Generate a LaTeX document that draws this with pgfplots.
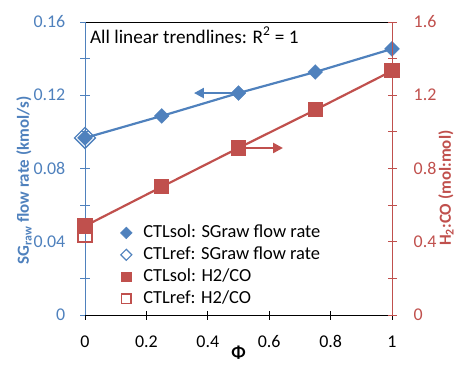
\documentclass[border=0pt]{standalone}
\usepackage{fontspec}
\setmainfont{Carlito}
\usepackage{pgfplots}
\pgfplotsset{compat=1.18}
\usetikzlibrary{arrows.meta}
\definecolor{xblue}{RGB}{79,129,189}
\definecolor{xred}{RGB}{192,80,77}
\begin{document}
\fontsize{18}{20}\selectfont
\begin{tikzpicture}
\useasboundingbox (-85bp,-50bp) rectangle (370bp,315bp);
\begin{axis}[
  at={(0,0)}, anchor=south west,
  scale only axis, width=307bp, height=293bp,
  xmin=0, xmax=1, ymin=0, ymax=0.16,
  axis x line*=box, axis y line*=left,
  x axis line style={black, line width=1pt},
  y axis line style={xblue, line width=1pt, -},
  xtick={0,0.2,0.4,0.6,0.8,1}, xticklabels={0,0.2,0.4,0.6,0.8,1},
  xtick pos=left,
  ytick={0,0.04,0.08,0.12,0.16}, yticklabels={0,0.04,0.08,0.12,0.16},
  minor ytick={0.02,0.06,0.10,0.14},
  tick align=center, major tick length=9bp, minor tick length=9bp,
  x tick style={black, line width=1pt},
  y tick style={xblue, line width=1pt},
  minor y tick style={xblue, line width=1pt},
  yticklabel style={xblue, font=\fontsize{18}{20}\selectfont, xshift=-9bp},
  xticklabel style={black, font=\fontsize{18}{20}\selectfont, yshift=-10bp},
  xlabel={\bfseries\fontsize{18}{20}\selectfont Φ},
  ylabel={\bfseries\fontsize{17}{19}\selectfont SG\textsubscript{raw} flow rate (kmol/s)},
  ylabel style={xblue, at={(rel axis cs:0,0.459)}, anchor=center, yshift=61bp},
  xlabel style={at={(rel axis cs:0.5,0)}, anchor=center, yshift=-38bp, inner sep=0pt},
  clip=false,
]
\addplot[xblue, line width=2.2pt, mark=square*, mark size=5.3pt, mark options={rotate=45, fill=xblue, draw=xblue, line width=0.3pt}]
  coordinates {(0,0.0967) (0.25,0.1087) (0.5,0.1212) (0.75,0.1327) (1,0.1453)};
\addplot[only marks, xblue, mark=square, mark size=7.4pt, mark options={rotate=45, line width=1.3pt, fill=white}]
  coordinates {(0,0.0967)};
\addplot[only marks, xblue, mark=square*, mark size=5pt, mark options={rotate=45}]
  coordinates {(0,0.0967)};
\draw[xblue, line width=2.4pt, -{Triangle[width=10pt,length=10pt]}] (axis cs:0.49,0.1212) -- (axis cs:0.355,0.1212);
\node[anchor=west, inner sep=0pt, font=\fontsize{19.3}{21}\selectfont] at (rel axis cs:0.016,0.955) {All linear trendlines: R\textsuperscript{2} = 1};
\end{axis}
\begin{axis}[
  at={(0,0)}, anchor=south west,
  scale only axis, width=307bp, height=293bp,
  xmin=0, xmax=1, ymin=0, ymax=1.6,
  axis x line=none, axis y line*=right,
  y axis line style={xred, line width=1pt, -},
  ytick={0,0.4,0.8,1.2,1.6}, yticklabels={0,0.4,0.8,1.2,1.6},
  minor ytick={0.2,0.6,1.0,1.4},
  tick align=center, major tick length=9bp, minor tick length=9bp,
  y tick style={xred, line width=1pt},
  minor y tick style={xred, line width=1pt},
  yticklabel style={xred, font=\fontsize{18}{20}\selectfont, xshift=11bp},
  ylabel={\bfseries\fontsize{17}{19}\selectfont H\textsubscript{2}:CO (mol:mol)},
  ylabel style={xred, at={(rel axis cs:1,0.433)}, anchor=center, yshift=-54bp},
  clip=false,
  legend style={at={(0.105,0.015)}, anchor=south west, draw=none, fill=none,
    font=\fontsize{18.5}{20}\selectfont, row sep=2.5pt, column sep=9bp},
  legend cell align=left,
]
\addlegendimage{only marks, xblue, mark=square*, mark size=4.2pt, mark options={rotate=45}}
\addlegendentry{CTLsol: SGraw flow rate}
\addlegendimage{only marks, xblue, mark=square, mark size=3.9pt, mark options={rotate=45, line width=1.2pt}}
\addlegendentry{CTLref: SGraw flow rate}
\addlegendimage{only marks, xred, mark=square*, mark size=5pt}
\addlegendentry{CTLsol: H2/CO}
\addlegendimage{only marks, xred, mark=square, mark size=4.6pt, mark options={line width=1.3pt}}
\addlegendentry{CTLref: H2/CO}
\addplot[only marks, xred, mark=square, mark size=7pt, mark options={line width=1.4pt, fill=white}, forget plot]
  coordinates {(0,0.437)};
\addplot[xred, line width=2.2pt, mark=square*, mark size=6.5pt, mark options={fill=xred}, forget plot]
  coordinates {(0,0.486) (0.25,0.70) (0.5,0.912) (0.75,1.12) (1,1.333)};
\draw[xred, line width=2.4pt, -{Triangle[width=10pt,length=10pt]}] (axis cs:0.51,0.912) -- (axis cs:0.645,0.912);
\end{axis}
\end{tikzpicture}
\end{document}
